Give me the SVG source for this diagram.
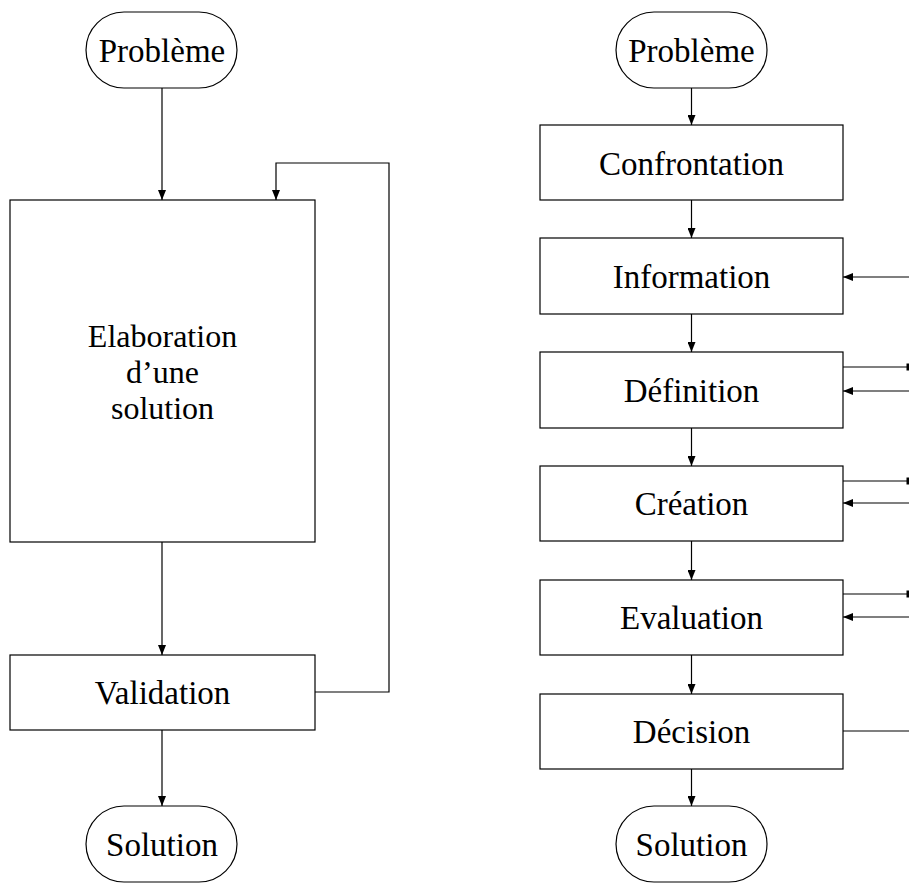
<svg xmlns="http://www.w3.org/2000/svg" width="909" height="883" viewBox="0 0 909 883">
<style>
.b{fill:#fff;stroke:#000;stroke-width:1.2}
.t{font-family:"Liberation Serif","Times New Roman",serif;font-size:33px;text-anchor:middle;fill:#000}
.s{font-size:32px}
.c{fill:none;stroke:#000;stroke-width:1.2}
</style>
<defs>
<marker id="a" markerWidth="10" markerHeight="8" refX="10" refY="4" orient="auto" markerUnits="userSpaceOnUse">
<path d="M0,0 L10,4 L0,8 Z" fill="#000"/>
</marker>
</defs>
<rect width="909" height="883" fill="#fff"/>
<g id="connectors">
<path class="c" d="M162,88 V200" marker-end="url(#a)"/>
<path class="c" d="M162,542 V655" marker-end="url(#a)"/>
<path class="c" d="M162,730 V806" marker-end="url(#a)"/>
<path class="c" d="M315,692 H389 V163 H276 V200" marker-end="url(#a)"/>
<path class="c" d="M691.5,88 V125" marker-end="url(#a)"/>
<path class="c" d="M691.5,200 V238" marker-end="url(#a)"/>
<path class="c" d="M691.5,314 V352" marker-end="url(#a)"/>
<path class="c" d="M691.5,428 V466" marker-end="url(#a)"/>
<path class="c" d="M691.5,541 V580" marker-end="url(#a)"/>
<path class="c" d="M691.5,655 V694" marker-end="url(#a)"/>
<path class="c" d="M691.5,769 V806" marker-end="url(#a)"/>
<path class="c" d="M909,277 H843" marker-end="url(#a)"/>
<path class="c" d="M843,367 H909"/>
<rect x="906.5" y="363.5" width="2.5" height="7" fill="#000"/>
<path class="c" d="M909,391 H843" marker-end="url(#a)"/>
<path class="c" d="M843,481 H909"/>
<rect x="906.5" y="477.5" width="2.5" height="7" fill="#000"/>
<path class="c" d="M909,503 H843" marker-end="url(#a)"/>
<path class="c" d="M843,594 H909"/>
<rect x="906.5" y="590.5" width="2.5" height="7" fill="#000"/>
<path class="c" d="M909,617 H843" marker-end="url(#a)"/>
<path class="c" d="M843,731 H909"/>
</g>
<g id="probleme1"><rect class="b" x="86" y="12" width="151" height="76" rx="38"/><text class="t" x="162" y="62">Problème</text></g>
<g id="elaboration"><rect class="b" x="10" y="200" width="305" height="342"/>
<text class="t s" x="162.5" y="347">Elaboration</text><text class="t s" x="162.5" y="383">d’une</text><text class="t s" x="162.5" y="419">solution</text></g>
<g id="validation"><rect class="b" x="10" y="655" width="305" height="75"/><text class="t" x="162.5" y="704">Validation</text></g>
<g id="solution1"><rect class="b" x="86" y="806" width="151" height="76" rx="38"/><text class="t" x="162" y="856">Solution</text></g>
<g id="probleme2"><rect class="b" x="616" y="12" width="151" height="76" rx="38"/><text class="t" x="691.5" y="62">Problème</text></g>
<g id="confrontation"><rect class="b" x="540" y="125" width="303" height="75"/><text class="t" x="691.5" y="175">Confrontation</text></g>
<g id="information"><rect class="b" x="540" y="238" width="303" height="76"/><text class="t" x="691.5" y="288">Information</text></g>
<g id="definition"><rect class="b" x="540" y="352" width="303" height="76"/><text class="t" x="691.5" y="402">Définition</text></g>
<g id="creation"><rect class="b" x="540" y="466" width="303" height="75"/><text class="t" x="691.5" y="515">Création</text></g>
<g id="evaluation"><rect class="b" x="540" y="580" width="303" height="75"/><text class="t" x="691.5" y="629">Evaluation</text></g>
<g id="decision"><rect class="b" x="540" y="694" width="303" height="75"/><text class="t" x="691.5" y="743">Décision</text></g>
<g id="solution2"><rect class="b" x="616" y="806" width="151" height="76" rx="38"/><text class="t" x="691.5" y="856">Solution</text></g>
</svg>
